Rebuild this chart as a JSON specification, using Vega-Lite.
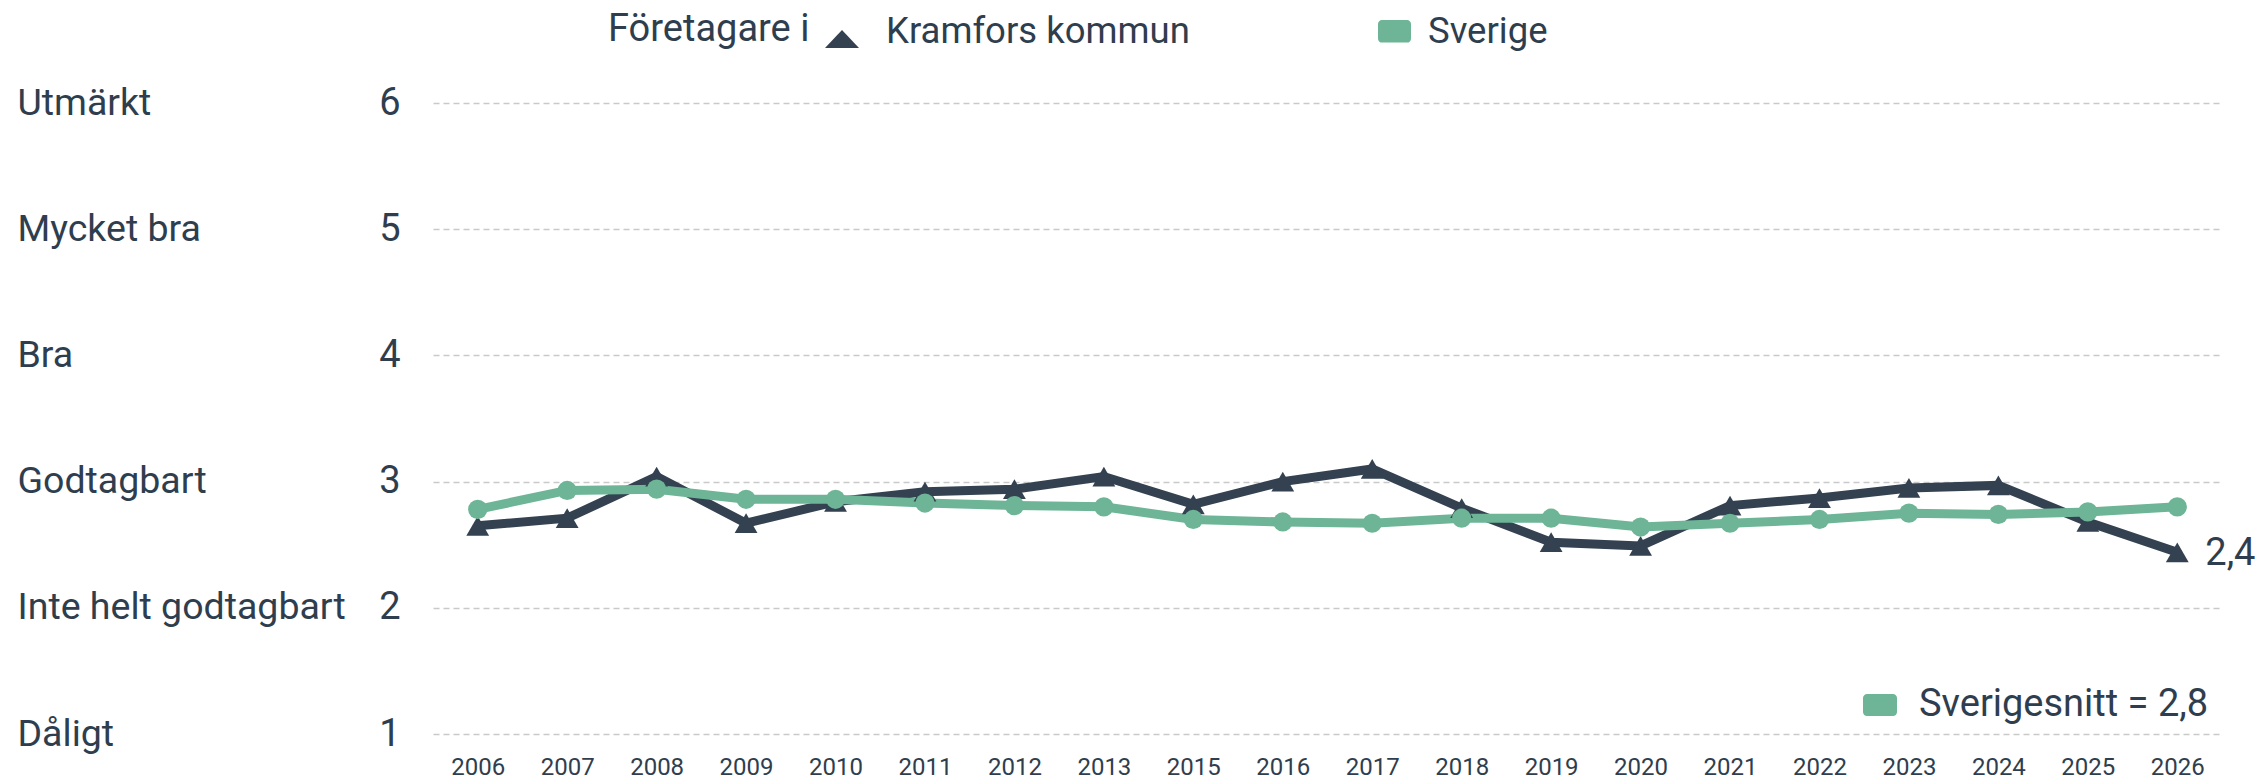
{
  "$schema": "https://vega.github.io/schema/vega-lite/v6.json",
  "width": 1789,
  "height": 631,
  "autosize": {"type": "none"},
  "padding": {"left": 433, "top": 103, "right": 43, "bottom": 45},
  "background": "white",
  "config": {
    "font": "Roboto",
    "view": {"stroke": null},
    "locale": {"number": {"decimal": ",", "thousands": " ", "grouping": [3], "currency": ["", " kr"]}},
    "axis": {"labelFont": "Roboto", "labelColor": "#2f3e4e", "title": null}
  },
  "datasets": {
    "main": [
      {"year": "2006", "series": "Kramfors kommun", "value": 2.65},
      {"year": "2007", "series": "Kramfors kommun", "value": 2.71},
      {"year": "2008", "series": "Kramfors kommun", "value": 3.04},
      {"year": "2009", "series": "Kramfors kommun", "value": 2.67},
      {"year": "2010", "series": "Kramfors kommun", "value": 2.84},
      {"year": "2011", "series": "Kramfors kommun", "value": 2.92},
      {"year": "2012", "series": "Kramfors kommun", "value": 2.94},
      {"year": "2013", "series": "Kramfors kommun", "value": 3.04},
      {"year": "2015", "series": "Kramfors kommun", "value": 2.82},
      {"year": "2016", "series": "Kramfors kommun", "value": 3.0},
      {"year": "2017", "series": "Kramfors kommun", "value": 3.1},
      {"year": "2018", "series": "Kramfors kommun", "value": 2.79},
      {"year": "2019", "series": "Kramfors kommun", "value": 2.52},
      {"year": "2020", "series": "Kramfors kommun", "value": 2.49},
      {"year": "2021", "series": "Kramfors kommun", "value": 2.81},
      {"year": "2022", "series": "Kramfors kommun", "value": 2.87},
      {"year": "2023", "series": "Kramfors kommun", "value": 2.95},
      {"year": "2024", "series": "Kramfors kommun", "value": 2.97},
      {"year": "2025", "series": "Kramfors kommun", "value": 2.68},
      {"year": "2026", "series": "Kramfors kommun", "value": 2.44},
      {"year": "2006", "series": "Sverige", "value": 2.78},
      {"year": "2007", "series": "Sverige", "value": 2.93},
      {"year": "2008", "series": "Sverige", "value": 2.94},
      {"year": "2009", "series": "Sverige", "value": 2.86},
      {"year": "2010", "series": "Sverige", "value": 2.86},
      {"year": "2011", "series": "Sverige", "value": 2.83},
      {"year": "2012", "series": "Sverige", "value": 2.81},
      {"year": "2013", "series": "Sverige", "value": 2.8},
      {"year": "2015", "series": "Sverige", "value": 2.7},
      {"year": "2016", "series": "Sverige", "value": 2.68},
      {"year": "2017", "series": "Sverige", "value": 2.67},
      {"year": "2018", "series": "Sverige", "value": 2.71},
      {"year": "2019", "series": "Sverige", "value": 2.71},
      {"year": "2020", "series": "Sverige", "value": 2.64},
      {"year": "2021", "series": "Sverige", "value": 2.67},
      {"year": "2022", "series": "Sverige", "value": 2.7},
      {"year": "2023", "series": "Sverige", "value": 2.75},
      {"year": "2024", "series": "Sverige", "value": 2.74},
      {"year": "2025", "series": "Sverige", "value": 2.76},
      {"year": "2026", "series": "Sverige", "value": 2.8}
    ],
    "snitt": [
      {"value": 2.8, "snitt": "Sverigesnitt = 2,8"}
    ]
  },
  "layer": [
    {
      "data": {"name": "main"},
      "encoding": {
        "x": {
          "field": "year", "type": "ordinal",
          "scale": {"type": "point", "padding": 0.5},
          "axis": {"labelFontSize": 24, "labelPadding": 21, "ticks": false, "tickSize": 0, "domain": false, "grid": false, "labelAngle": 0}
        },
        "y": {
          "field": "value", "type": "quantitative",
          "scale": {"domain": [1, 6], "nice": false, "zero": false},
          "axis": {"orient": "left", "values": [1, 2, 3, 4, 5, 6], "labelFontSize": 38, "labelPadding": 33, "ticks": false, "tickSize": 0, "domain": false, "grid": true, "gridDash": [6, 4], "gridColor": "#c9c9c9", "gridWidth": 1.5}
        },
        "color": {
          "field": "series", "type": "nominal",
          "scale": {"domain": ["Kramfors kommun", "Sverige"], "range": ["#334150", "#6db596"]},
          "legend": {
            "title": "Företagare i",
            "orient": "none", "legendX": 175, "legendY": -93,
            "direction": "horizontal",
            "titleOrient": "left", "titleFontSize": 38, "titleFontWeight": "normal", "titleColor": "#2f3e4e", "titleFont": "Roboto", "titlePadding": 15, "titleLimit": 600,
            "labelFontSize": 36.5, "labelColor": "#2f3e4e", "labelFont": "Roboto", "labelOffset": 17, "labelLimit": 600,
            "symbolSize": 1936, "columnPadding": 177, "padding": 0,
            "encode": {
              "symbols": {
                "update": {
                  "shape": {"signal": "datum.value === 'Sverige' ? 'M-0.32,-0.56 H0.82 A0.18,0.18 0 0 1 1,-0.38 V0.29 A0.18,0.18 0 0 1 0.82,0.47 H-0.32 A0.18,0.18 0 0 1 -0.5,0.29 V-0.38 A0.18,0.18 0 0 1 -0.32,-0.56 Z' : 'M-0.227,-0.1 L0.545,0.72 L-1,0.72 Z'"},
                  "fill": {"signal": "datum.value === 'Sverige' ? '#6db596' : '#334150'"},
                  "strokeWidth": {"value": 0},
                  "opacity": {"value": 1}
                }
              }
            }
          }
        }
      },
      "layer": [
        {"mark": {"type": "line", "strokeWidth": 9}},
        {
          "transform": [{"filter": "datum.series === 'Kramfors kommun'"}],
          "mark": {"type": "point", "shape": "triangle-up", "filled": true, "opacity": 1, "size": 520}
        },
        {
          "transform": [{"filter": "datum.series === 'Sverige'"}],
          "mark": {"type": "point", "shape": "circle", "filled": true, "opacity": 1, "size": 370}
        },
        {
          "transform": [{"filter": "datum.series === 'Kramfors kommun' && datum.year === '2026'"}],
          "mark": {"type": "text", "align": "left", "baseline": "middle", "dx": 28, "dy": 2, "fontSize": 38, "font": "Roboto", "color": "#2f3e4e"},
          "encoding": {"text": {"field": "value", "type": "quantitative", "format": ".1f"}, "color": {"value": "#2f3e4e"}}
        }
      ]
    },
    {
      "data": {"name": "snitt"},
      "mark": {"type": "point", "filled": true, "opacity": 0},
      "encoding": {
        "y": {
          "field": "value", "type": "quantitative",
          "scale": {"domain": [1, 6], "nice": false, "zero": false},
          "axis": {"orient": "left", "values": [1, 2, 3, 4, 5, 6], "labelExpr": "datum.value == 6 ? 'Utmärkt' : datum.value == 5 ? 'Mycket bra' : datum.value == 4 ? 'Bra' : datum.value == 3 ? 'Godtagbart' : datum.value == 2 ? 'Inte helt godtagbart' : 'Dåligt'", "labelAlign": "left", "labelPadding": 416, "labelFontSize": 37.5, "labelLimit": 500, "ticks": false, "tickSize": 0, "domain": false, "grid": false}
        },
        "fill": {
          "field": "snitt", "type": "nominal",
          "scale": {"range": ["#6db596"]},
          "legend": {
            "title": null, "orient": "none", "legendX": 1428, "legendY": 583,
            "labelFontSize": 38, "labelColor": "#2f3e4e", "labelFont": "Roboto", "labelOffset": 20, "labelLimit": 600,
            "symbolType": "M-0.76,-0.65 H0.76 A0.24,0.24 0 0 1 1,-0.41 V0.41 A0.24,0.24 0 0 1 0.76,0.65 H-0.76 A0.24,0.24 0 0 1 -1,0.41 V-0.41 A0.24,0.24 0 0 1 -0.76,-0.65 Z",
            "symbolSize": 1156, "symbolOpacity": 1, "symbolFillColor": "#6db596", "symbolStrokeWidth": 0, "padding": 0,
            "encode": {"symbols": {"update": {"opacity": {"value": 1}, "fill": {"value": "#6db596"}, "strokeWidth": {"value": 0}}}}
          }
        }
      }
    }
  ],
  "resolve": {"scale": {"y": "independent"}, "axis": {"y": "independent"}}
}
